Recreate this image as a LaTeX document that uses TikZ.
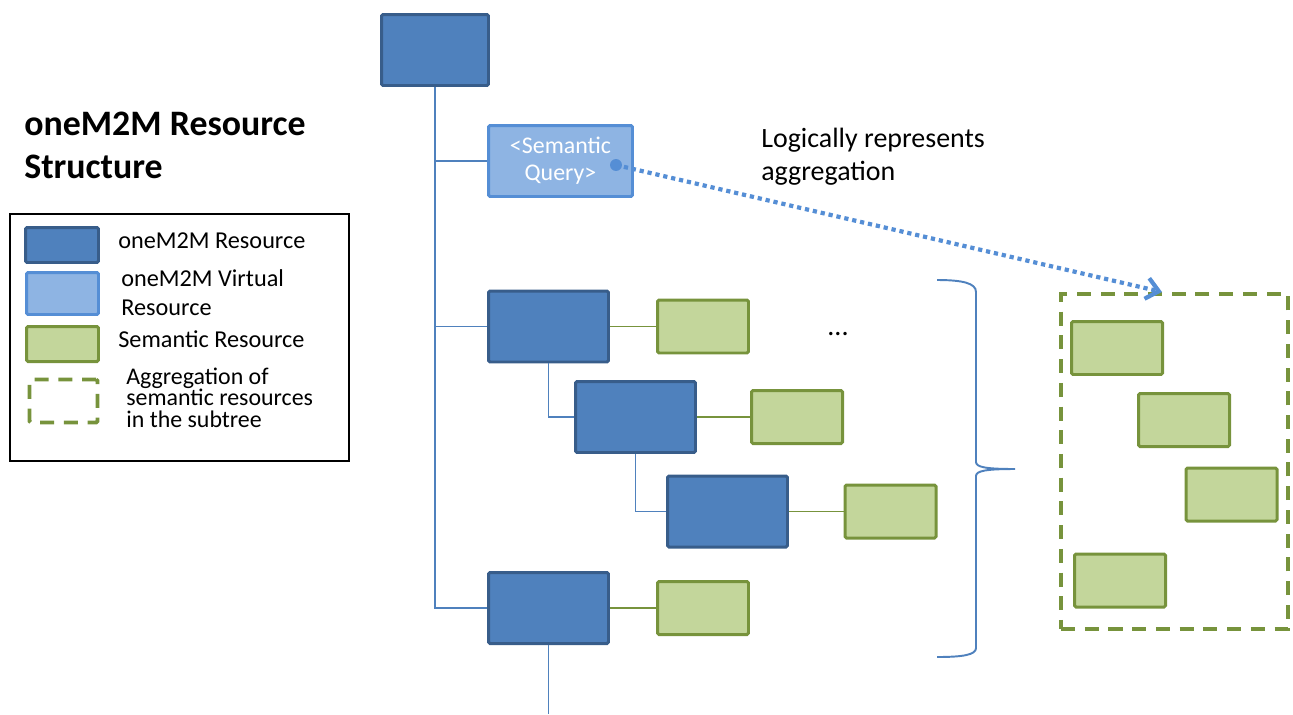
\documentclass[tikz,border=0pt]{standalone}
\usepackage{fontspec}
\setmainfont{Carlito}
\usetikzlibrary{arrows.meta, positioning}
\definecolor{ResFill}{HTML}{4F81BD}
\definecolor{ResLine}{HTML}{385D8A}
\definecolor{VresFill}{HTML}{8EB4E3}
\definecolor{VresLine}{HTML}{558ED5}
\definecolor{SemFill}{HTML}{C3D69B}
\definecolor{SemLine}{HTML}{77933C}
\definecolor{TreeLine}{HTML}{4F81BD}

\tikzset{
  res/.style={draw=ResLine, fill=ResFill, line width=1.7pt, inner sep=0pt,
    minimum width=2.4cm, minimum height=1.42cm, rounded corners=0.8pt},
  vres/.style={draw=VresLine, fill=VresFill, line width=1.7pt, inner sep=0pt,
    minimum width=2.88cm, minimum height=1.42cm, rounded corners=0.8pt},
  sem/.style={draw=SemLine, fill=SemFill, line width=1.7pt, inner sep=0pt,
    minimum width=1.82cm, minimum height=1.06cm, rounded corners=0.8pt},
  agg/.style={draw=SemLine, line width=2.2pt, dash pattern=on 8pt off 5.5pt, inner sep=0pt},
  tree/.style={draw=TreeLine, line width=1.1pt},
  semlink/.style={draw=SemLine, line width=1.1pt},
  lbl/.style={anchor=base west, inner sep=0pt, align=left,
    font=\fontsize{13.8}{16.4}\selectfont},
}

\begin{document}
\begin{tikzpicture}[x=0.02cm, y=-0.02cm, >=Stealth]
  \useasboundingbox (0,0) rectangle (1293,714);

  % title and legend (base = last line)
  \node[anchor=base west, inner sep=0pt, align=left,
    font=\fontsize{20.4}{24.4}\selectfont\bfseries] (title) at (24,178)
    {oneM2M Resource\\Structure};
  \draw[line width=0.8pt] (10,214) rectangle (349,461);
  \node[res, minimum width=1.46cm, minimum height=0.70cm] (kres) at (62,245) {};
  \node[lbl] (kreslbl) at (118,248) {oneM2M Resource};
  \node[vres, minimum width=1.44cm, minimum height=0.84cm] (kvres) at (62.5,293.5) {};
  \node[lbl] (kvreslbl) at (121,315) {oneM2M Virtual\\Resource};
  \node[sem, minimum width=1.44cm, minimum height=0.70cm] (ksem) at (62.5,344) {};
  \node[lbl] (ksemlbl) at (118,347) {Semantic Resource};
  \node[agg, rounded corners=0.8pt, minimum width=1.36cm, minimum height=0.86cm] (kagg) at (63.5,401) {};
  \node[lbl, font=\fontsize{13.6}{12.2}\selectfont] (kagglbl) at (126,427)
    {Aggregation of\\semantic resources\\in the subtree};

  % resource tree
  \node[res, minimum width=2.14cm] (root) at (435,50) {};
  \node[vres, text=white, align=center, font=\fontsize{13.6}{15.3}\selectfont] (query) at (560.5,161)
    {<Semantic\\Query>};
  \node[res] (r1) at (548.5,326.5) {};
  \node[res] (r2) at (635.5,417) {};
  \node[res] (r3) at (727.5,511.5) {};
  \node[res] (r4) at (548.5,608) {};
  \node[sem] (s1) at (703,326.5) {};
  \node[sem] (s2) at (797,417) {};
  \node[sem] (s3) at (890.5,511.5) {};
  \node[sem] (s4) at (703,608) {};
  \node[font=\fontsize{16}{18}\selectfont] (more) at (838,334) {...};
  \coordinate (tail) at (548.5,714);

  \draw[tree] (root.south) |- (query.west);
  \draw[tree] (root.south) |- (r1.west);
  \draw[tree] (root.south) |- (r4.west);
  \draw[tree] (r1.south) |- (r2.west);
  \draw[tree] (r2.south) |- (r3.west);
  \draw[tree] (r4.south) -- (tail);
  \draw[semlink] (r1.east) -- (s1.west);
  \draw[semlink] (r2.east) -- (s2.west);
  \draw[semlink] (r3.east) -- (s3.west);
  \draw[semlink] (r4.east) -- (s4.west);

  % subtree brace
  \draw[TreeLine, line width=1.1pt]
    (937,280) .. controls (962,280) and (976,283) .. (976,292) -- (976,462)
    .. controls (976,467) and (985,469) .. (1015,469)
    .. controls (985,469) and (976,471) .. (976,476) -- (976,648)
    .. controls (976,655) and (962,657) .. (937,657);

  % aggregation
  \node[agg, minimum width=4.54cm, minimum height=6.7cm] (aggbox) at (1174.5,461.5) {};
  \node[sem] (a1) at (1117,348) {};
  \node[sem] (a2) at (1184,420) {};
  \node[sem] (a3) at (1231.5,494.5) {};
  \node[sem] (a4) at (1120,580.5) {};

  \coordinate (qdot) at (616,165);
  \coordinate (aggtip) at (1162,292);
  \fill[VresLine] (qdot) circle (3.4pt);
  \draw[VresLine, line width=2.4pt, dash pattern=on 2.4pt off 2.2pt,
    -{Straight Barb[length=7pt, width=12pt]}] (qdot) -- (aggtip);
  \node[lbl, font=\fontsize{15.9}{18.7}\selectfont] (note) at (761,180)
    {Logically represents\\aggregation};
\end{tikzpicture}
\end{document}
